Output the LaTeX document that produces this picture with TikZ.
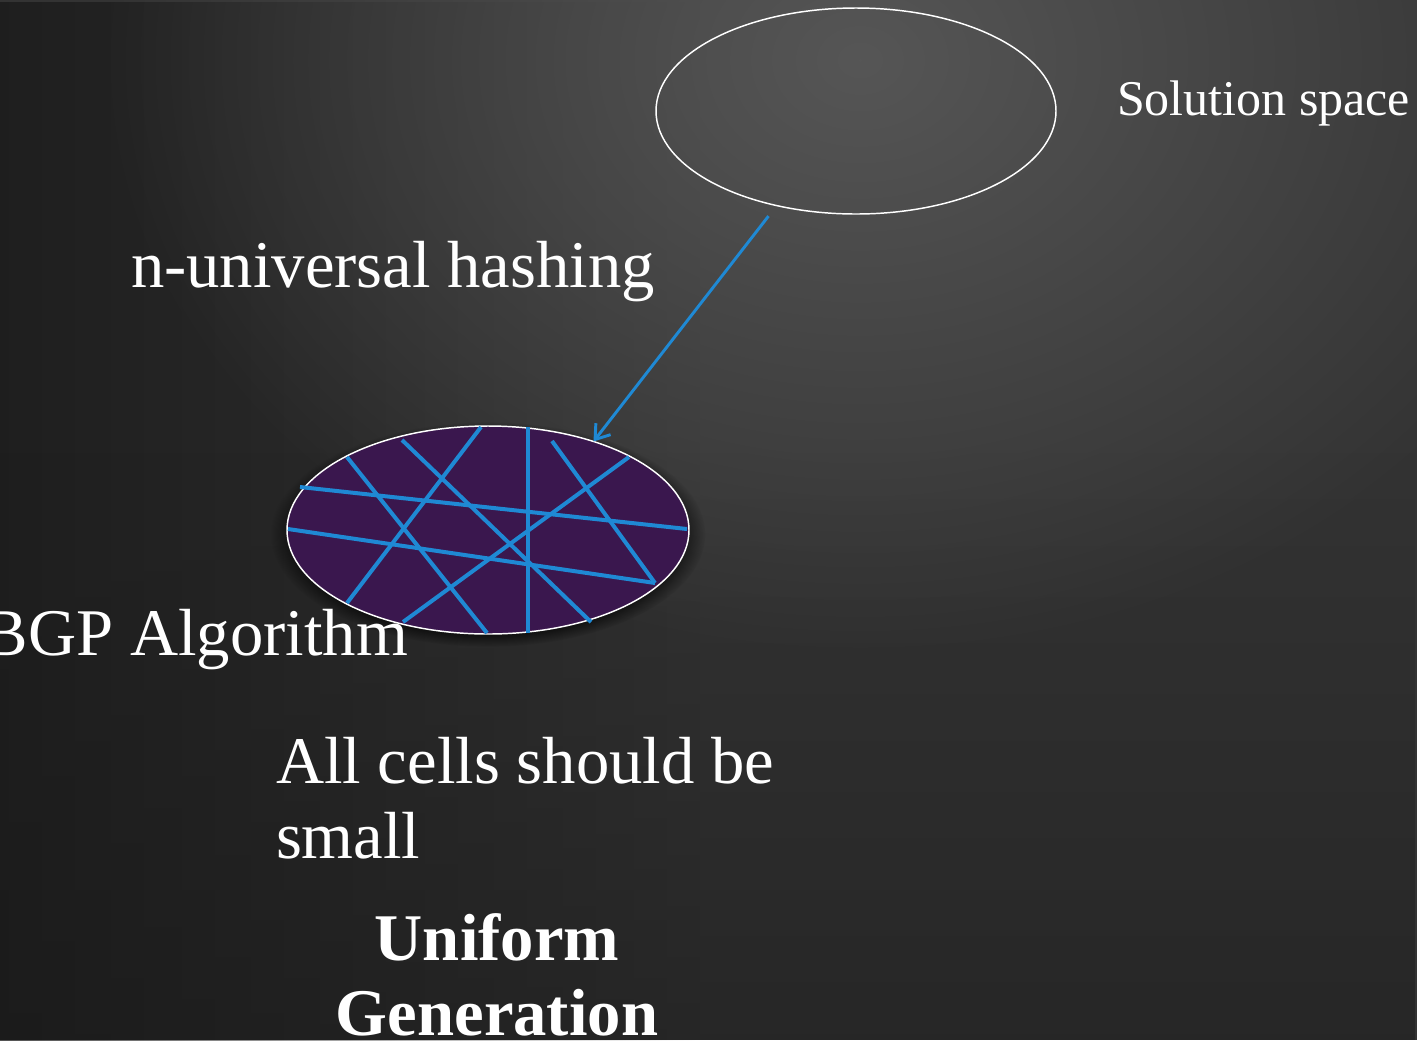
\documentclass[tikz,border=0pt]{standalone}
\usepackage{fontspec}
\setmainfont{Liberation Serif}
\usetikzlibrary{shapes.geometric,arrows.meta,shadows,fadings}

\definecolor{bgbase}{HTML}{333333}
\definecolor{bgglow}{HTML}{565656}
\definecolor{bgdark}{HTML}{181818}
\definecolor{hashblue}{HTML}{1F89D4}
\definecolor{cellpurple}{HTML}{3A174E}

\tikzfading[name=glowfade, inner color=transparent!0, outer color=transparent!100]
\tikzfading[name=leftfade, left color=transparent!0, right color=transparent!100]
\tikzfading[name=downfade, top color=transparent!100, bottom color=transparent!0]
\tikzfading[name=ringfade, inner color=transparent!100, outer color=transparent!0]

\begin{document}
\begin{tikzpicture}[x=0.75pt,y=-0.75pt,
  every node/.style={inner sep=0pt, outer sep=0pt},
  spaceoval/.style={ellipse, draw=white, line width=1.1pt,
    minimum width=300pt, minimum height=154.5pt},
  celloval/.style={ellipse, draw=white, line width=1.1pt, fill=cellpurple,
    minimum width=301.5pt, minimum height=156pt},
  cut/.style={draw=hashblue, line width=3pt},
  hasharrow/.style={draw=hashblue, line width=2.2pt,
    -{Straight Barb[length=10pt,width=14pt,line width=2.2pt]}},
  bigtext/.style={text=white, font=\fontsize{50}{56.25}\selectfont},
  smalltext/.style={text=white, font=\fontsize{37.5}{45}\selectfont},
]
\clip (0,0) rectangle (1417,1040);

% dark slate background with a soft light spot near the top
\fill[bgbase] (0,0) rectangle (1417,1040);
\fill[bgdark, opacity=0.75, path fading=leftfade] (0,0) rectangle (700,1040);
\fill[bgdark, opacity=0.45, path fading=downfade] (0,450) rectangle (1417,1040);
\fill[bgglow, path fading=glowfade] (860,60) ellipse (760 and 600);

% soft dark halo round the empty set
\begin{scope}
  \clip (856,111) ellipse (226 and 128) (-10,-10) rectangle (1430,1050);
  \fill[black, opacity=0.35, path fading=circle with fuzzy edge 15 percent]
    (856,113) ellipse (222 and 124);
\end{scope}

% the two sets
\node[spaceoval] (sol) at (856,111) {};
\node[celloval, circular drop shadow={shadow scale=1.08, shadow xshift=0pt,
      shadow yshift=-3pt, opacity=0.8, fill=black}] (bgp) at (488,530) {};

% hash cuts splitting the set into cells
\begin{scope}[shift={(bgp.center)}]
  \draw[cut] (-188,-43) -- (199,-1);
  \draw[cut] (-200,-1) -- (167,53);
  \draw[cut] (-141,-73) -- (-1,103);
  \draw[cut] (-86,-90) -- (103,92);
  \draw[cut] (-7,-103) -- (-141,73);
  \draw[cut] (40,-103) -- (40,103);
  \draw[cut] (64,-89) -- (167,53);
  \draw[cut] (141,-73) -- (-85,92);
\end{scope}

% hashing step
\draw[hasharrow, shorten <=10pt] (sol.230) -- (bgp.40);

% labels
\node[smalltext, anchor=base west] (soltxt) at (1117,115) {Solution space};
\node[bigtext, anchor=base west] (hashtxt) at (131,287) {n-universal hashing};
\node[bigtext, anchor=base east] (bgptxt) at (408,655) {BGP Algorithm};
\node[bigtext, anchor=base west, align=left] (celltxt) at (276,858)
  {All cells should be\\small};
\node[bigtext, anchor=base, align=center, font=\fontsize{50}{56.25}\selectfont\bfseries]
  (unitxt) at (497,1035) {Uniform\\Generation};
\end{tikzpicture}
\end{document}
